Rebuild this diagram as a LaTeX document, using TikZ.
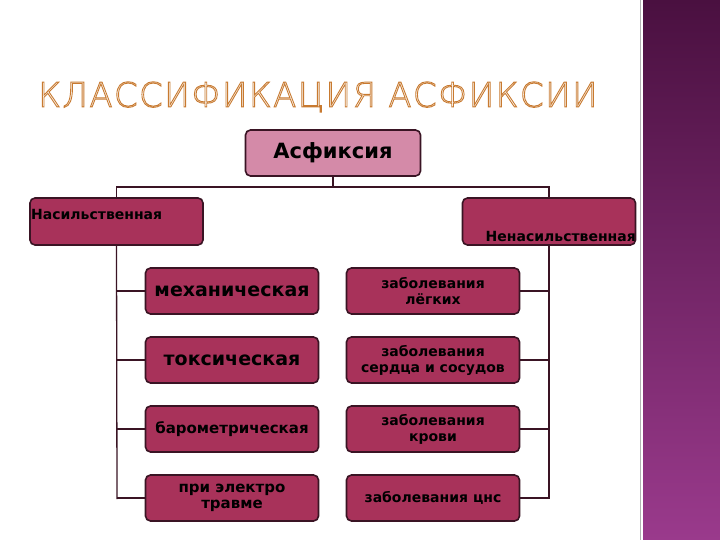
\documentclass[tikz,border=0pt]{standalone}
\usepackage{fontspec}
\setmainfont{DejaVu Sans}
\newfontfamily\titlefont{DejaVu Sans ExtraLight}
\usetikzlibrary{positioning}
\definecolor{boxfill}{HTML}{A8325A}
\definecolor{topfill}{HTML}{D48AA8}
\definecolor{edge}{HTML}{3A1424}
\definecolor{barTop}{HTML}{4A1040}
\definecolor{barBot}{HTML}{9A3A8C}
\definecolor{gold}{HTML}{C87A30}
\tikzset{
  bx/.style={draw=edge, line width=1.6pt, rounded corners=5pt, fill=boxfill, minimum width=173pt, minimum height=46pt, inner sep=1pt, align=center, font=\bfseries, text=black},
  conn/.style={draw=edge, line width=1.3pt}
}
\begin{document}
\begin{tikzpicture}[x=1pt,y=-1pt]
\useasboundingbox (0,0) rectangle (720,540);
\fill[white] (0,0) rectangle (720,540);
\shade[top color=barTop, bottom color=barBot] (643,0) rectangle (720,540);
\draw[gray!60, line width=0.6pt] (640,0) -- (640,540);
\node (title) at (318,97) {\titlefont\fontsize{34}{34}\selectfont\color{gold}\special{pdf:literal 1 Tr 0.9 w}\addfontfeature{LetterSpace=4}КЛАССИФИКАЦИЯ АСФИКСИИ\special{pdf:literal 0 Tr}};
\node[bx, fill=topfill, minimum width=175pt, font=\bfseries\fontsize{21}{21}\selectfont] (root) at (333,153) {Асфиксия};
\node[bx, font=\bfseries\fontsize{14}{14}\selectfont, minimum height=47pt] (vio) at (116.5,221.5) {};
\node[anchor=north west, font=\bfseries\fontsize{14}{14}\selectfont, inner sep=0pt] (violab) at (31,209) {Насильственная};
\node[bx, font=\bfseries\fontsize{14}{14}\selectfont, minimum height=47pt] (nvio) at (549,221.5) {};
\node[anchor=south east, font=\bfseries\fontsize{14}{14}\selectfont, inner sep=0pt] (nviolab) at (636,242) {Ненасильственная};
\coordinate (split) at (333,187);
\draw[conn] (root.south) -- (split);
\draw[conn] (vio.north) |- (split) -| (nvio.north);
% left column
\node[bx, font=\bfseries\fontsize{19}{19}\selectfont] (l1) at (232,291) {механическая};
\node[bx, font=\bfseries\fontsize{19}{19}\selectfont] (l2) at (232,360) {токсическая};
\node[bx, font=\bfseries\fontsize{15}{15}\selectfont] (l3) at (232,429) {барометрическая};
\node[bx, font=\bfseries\fontsize{15}{16}\selectfont] (l4) at (232,498) {при электро\\травме};
% right column
\node[bx, font=\bfseries\fontsize{14}{16}\selectfont] (r1) at (433,291) {заболевания\\лёгких};
\node[bx, font=\bfseries\fontsize{14}{16}\selectfont] (r2) at (433,360) {заболевания\\сердца и сосудов};
\node[bx, font=\bfseries\fontsize{14}{16}\selectfont] (r3) at (433,429) {заболевания\\крови};
\node[bx, font=\bfseries\fontsize{14}{16}\selectfont] (r4) at (433,498) {заболевания цнс};
\coordinate (lb) at (117,499);
\coordinate (rb) at (549,499);
\draw[conn] (vio.south) -- (lb);
\draw[conn] (nvio.south) -- (rb);
\foreach \n in {l1,l2,l3,l4}{\draw[conn] (\n.west) -- (\n.west -| lb);}
\foreach \n in {r1,r2,r3,r4}{\draw[conn] (\n.east) -- (\n.east -| rb);}
\end{tikzpicture}
\end{document}
